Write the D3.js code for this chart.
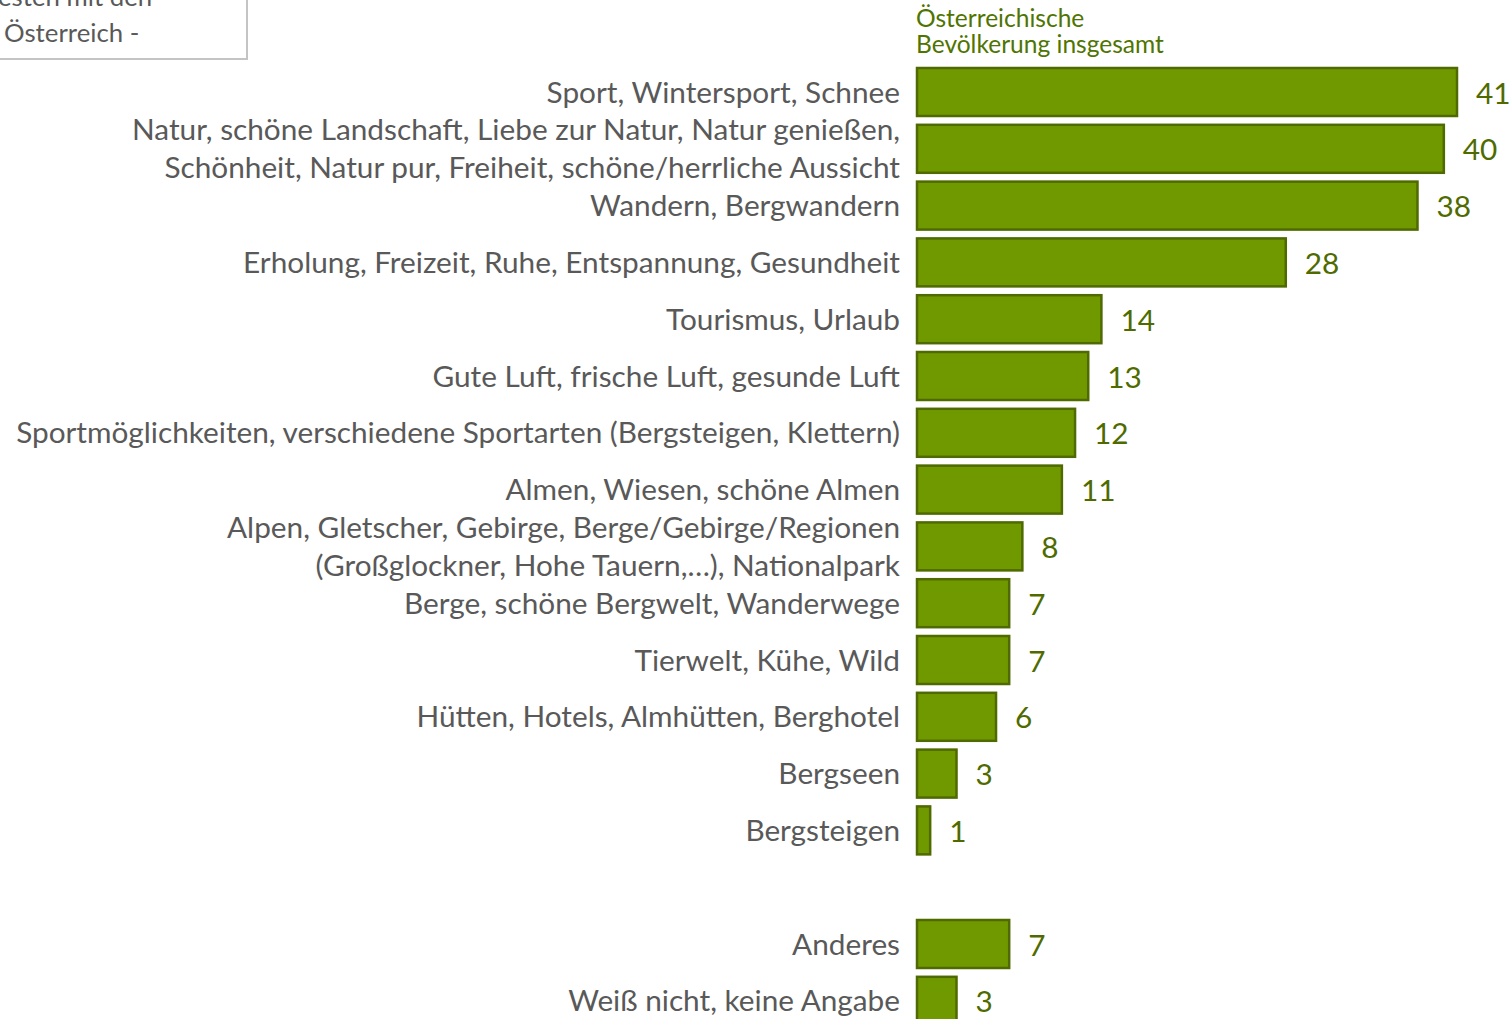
<!DOCTYPE html>
<html>
<head>
<meta charset="utf-8">
<script src="https://cdn.jsdelivr.net/npm/d3@7"></script>
<style>
  body { margin: 0; background: #fff; overflow: hidden; }
  text { font-family: Lato, "Open Sans", sans-serif; }
</style>
</head>
<body>
<div id="chart"></div>
<script>
(function() {
    const width = 1511,
          height = 1019;

    // data
    const categories = [
        'Sport, Wintersport, Schnee',
        'Natur, schöne Landschaft, Liebe zur Natur, Natur genießen,\nSchönheit, Natur pur, Freiheit, schöne/herrliche Aussicht',
        'Wandern, Bergwandern',
        'Erholung, Freizeit, Ruhe, Entspannung, Gesundheit',
        'Tourismus, Urlaub',
        'Gute Luft, frische Luft, gesunde Luft',
        'Sportmöglichkeiten, verschiedene Sportarten (Bergsteigen, Klettern)',
        'Almen, Wiesen, schöne Almen',
        'Alpen, Gletscher, Gebirge, Berge/Gebirge/Regionen\n(Großglockner, Hohe Tauern,…), Nationalpark',
        'Berge, schöne Bergwelt, Wanderwege',
        'Tierwelt, Kühe, Wild',
        'Hütten, Hotels, Almhütten, Berghotel',
        'Bergseen',
        'Bergsteigen',
        '',
        'Anderes',
        'Weiß nicht, keine Angabe'
    ];
    const values = [41, 40, 38, 28, 14, 13, 12, 11, 8, 7, 7, 6, 3, 1, null, 7, 3];
    const seriesName = ['Österreichische', 'Bevölkerung insgesamt'];
    const boxText = ['esten mit den', 'Österreich -'];

    const rows = categories.map((c, i) => ({ id: i, label: c, value: values[i] }));

    const xScale = d3.scaleLinear()
        .domain([0, 41])
        .range([917, 1457]);

    const yScale = d3.scaleBand()
        .domain(rows.map(d => d.id))
        .range([63.6, 63.6 + 56.8 * rows.length])
        .paddingInner(0.155)
        .paddingOuter(0.0775);

    const svg = d3.select('#chart')
        .append('svg')
        .attr('width', width)
        .attr('height', height);

    // fit the font size to the widest label (884px in the reference)
    const probe = svg.append('text').attr('font-size', 100)
        .text(categories[6]);
    const labelSize = 100 * 884 / probe.node().getComputedTextLength();
    probe.text(seriesName[1]);
    const headSize = 100 * 248 / probe.node().getComputedTextLength();
    probe.remove();

    // text box at top left
    svg.append('rect')
        .attr('x', -10).attr('y', -10)
        .attr('width', 257).attr('height', 69)
        .attr('fill', '#fff')
        .attr('stroke', '#c4c4c4')
        .attr('stroke-width', 2);

    svg.append('g').selectAll('text')
        .data(boxText)
        .enter().append('text')
        .attr('x', (d, i) => i === 0 ? -2 : 4)
        .attr('y', (d, i) => 6 + i * 36)
        .attr('font-size', headSize * 1.05)
        .attr('fill', '#595959')
        .text(d => d);

    // series heading
    svg.append('g').selectAll('text')
        .data(seriesName)
        .enter().append('text')
        .attr('x', 916)
        .attr('y', (d, i) => 27 + i * 26)
        .attr('font-size', headSize)
        .attr('fill', '#4f7400')
        .text(d => d);

    const shown = rows.filter(d => d.value !== null);

    svg.append('g').selectAll('rect')
        .data(shown)
        .enter().append('rect')
        .attr('x', xScale(0))
        .attr('y', d => yScale(d.id))
        .attr('width', d => xScale(d.value) - xScale(0))
        .attr('height', yScale.bandwidth())
        .attr('fill', '#709900')
        .attr('stroke', '#4e6a00')
        .attr('stroke-width', 2.5);

    svg.append('g').selectAll('text')
        .data(shown)
        .enter().append('text')
        .attr('x', d => xScale(d.value) + 19)
        .attr('y', d => yScale(d.id) + yScale.bandwidth() / 2)
        .attr('dominant-baseline', 'central')
        .attr('font-size', labelSize)
        .attr('fill', '#4f6b00')
        .text(d => d.value);

    const labels = svg.append('g').selectAll('text')
        .data(rows.filter(d => d.label))
        .enter().append('text')
        .attr('text-anchor', 'end')
        .attr('font-size', labelSize)
        .attr('fill', '#595959');

    labels.each(function(d) {
        const lines = d.label.split('\n');
        const cy = yScale(d.id) + yScale.bandwidth() / 2 - 1;
        d3.select(this).selectAll('tspan')
            .data(lines)
            .enter().append('tspan')
            .attr('x', 900)
            .attr('y', (l, i) => cy + (i - (lines.length - 1) / 2) * 38)
            .attr('dominant-baseline', 'central')
            .text(l => l);
    });
})();
</script>
</body>
</html>
